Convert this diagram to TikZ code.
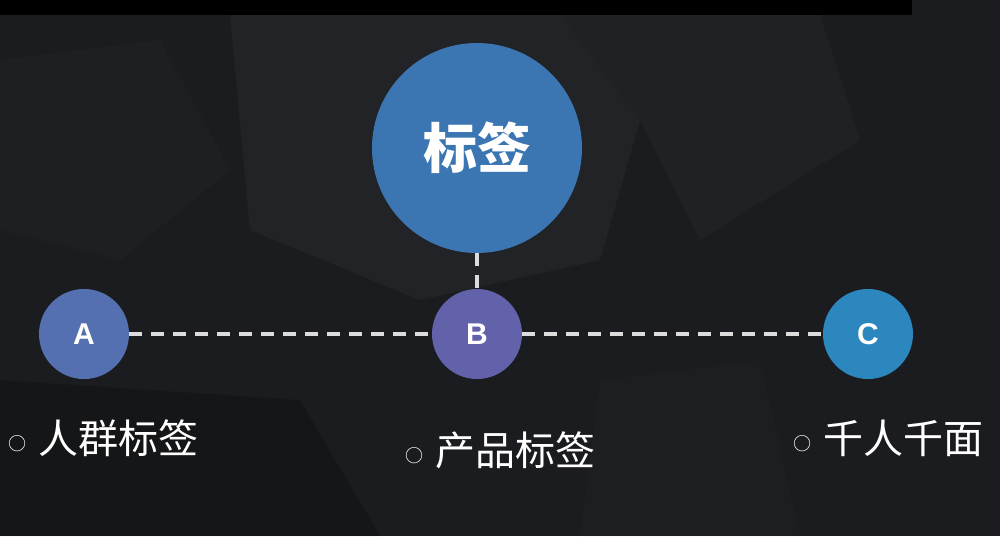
\documentclass[tikz,border=0pt]{standalone}
\usepackage{fontspec}
\newfontfamily\cjk{Noto Sans CJK SC}
\newfontfamily\latin{Liberation Sans}
\usepackage{tikz}
\usetikzlibrary{positioning, calc}
\definecolor{bgdark}{HTML}{1B1C1F}
\definecolor{bglight}{HTML}{2C2D31}
\definecolor{tagblue}{HTML}{3B76B2}
\definecolor{ablue}{HTML}{5470B1}
\definecolor{bviolet}{HTML}{6162A9}
\definecolor{cblue}{HTML}{2C87BF}
\definecolor{dashgrey}{HTML}{DCDCDC}
\tikzstyle{Link} = [
    dashgrey,
    line width = 1.6pt,
    dash pattern = on 6.5pt off 4.5pt
]

\begin{document}
\begin{tikzpicture}[
x = 0.5pt, y = -0.5pt,
bigdot/.style={
    circle,
    fill = tagblue,
    minimum size = 105pt,
    inner sep = 0pt,
    text = white,
    font = \cjk\bfseries\fontsize{27pt}{30pt}\selectfont
    },
dot/.style={
    circle,
    minimum size = 45pt,
    inner sep = 0pt,
    text = white,
    font = \latin\bfseries\fontsize{15pt}{17pt}\selectfont
    },
tag/.style={
    anchor = west,
    inner sep = 0pt,
    text = white,
    font = \cjk\fontsize{20pt}{24pt}\selectfont
    }
]

% background
\useasboundingbox (0,0) rectangle (1000,536);
\fill[bgdark] (0,0) rectangle (1000,536);
\fill[bglight, opacity=0.45] (230,15) -- (560,15) -- (640,120) -- (600,260) -- (420,300) -- (250,230) -- cycle;
\fill[bglight, opacity=0.35] (560,15) -- (820,15) -- (860,140) -- (700,240) -- (640,120) -- cycle;
\fill[bglight, opacity=0.2] (0,60) -- (160,40) -- (230,170) -- (120,260) -- (0,230) -- cycle;
\fill[bglight, opacity=0.15] (600,380) -- (760,360) -- (800,536) -- (580,536) -- cycle;
\fill[black, opacity=0.2] (0,380) -- (300,400) -- (380,536) -- (0,536) -- cycle;
\fill[black] (0,0) rectangle (912,15);

% circles
\node[bigdot] (tag) at (477,148) {标签};
\node[dot, fill=ablue] (A) at (84,334) {A};
\node[dot, fill=bviolet] (B) at (477,334) {B};
\node[dot, fill=cblue] (C) at (868,334) {C};

% links
\draw[Link] (tag.south) -- (B.north);
\draw[Link] (A.east) -- (B.west);
\draw[Link] (B.east) -- (C.west);

% labels
\node[tag] (crowd) at (8,438) {\raisebox{1.5pt}{\fontsize{9pt}{10pt}\selectfont ○}\hspace{6pt}人群标签};
\node[tag] (product) at (405,450) {\raisebox{1.5pt}{\fontsize{9pt}{10pt}\selectfont ○}\hspace{6pt}产品标签};
\node[tag] (faces) at (793,438) {\raisebox{1.5pt}{\fontsize{9pt}{10pt}\selectfont ○}\hspace{6pt}千人千面};

\end{tikzpicture}
\end{document}
